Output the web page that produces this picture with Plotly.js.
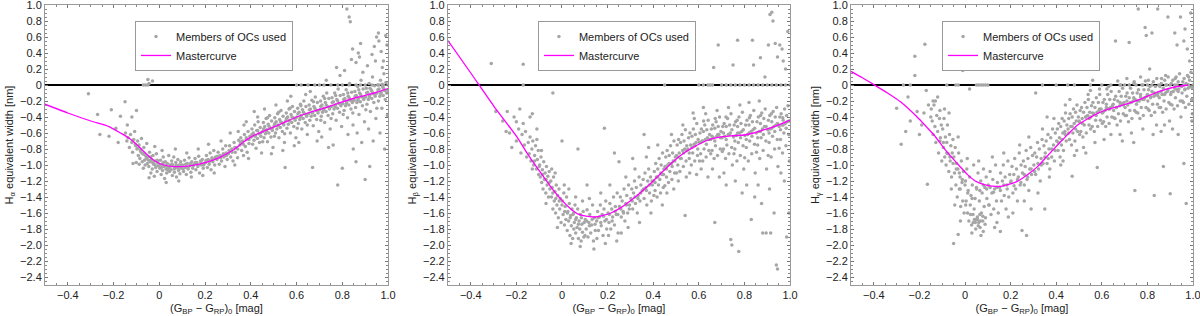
<!DOCTYPE html>
<html>
<head>
<meta charset="utf-8">
<script src="https://cdn.plot.ly/plotly-3.0.1.min.js"></script>
<style>html,body{margin:0;padding:0;background:#fff;}#chart{width:1200px;height:316px;}</style>
</head>
<body>
<div id="chart"></div>
<script>
// ---------- data ----------
const xTickVals = [-0.4, -0.2, 0, 0.2, 0.4, 0.6, 0.8, 1.0];
const xTickText = ['\u22120.4', '\u22120.2', '0', '0.2', '0.4', '0.6', '0.8', '1.0'];
const yTickVals = [-2.4, -2.2, -2.0, -1.8, -1.6, -1.4, -1.2, -1.0, -0.8, -0.6, -0.4, -0.2, 0, 0.2, 0.4, 0.6, 0.8, 1.0];
const yTickText = ['\u22122.4', '\u22122.2', '\u22122.0', '\u22121.8', '\u22121.6', '\u22121.4', '\u22121.2', '\u22121.0', '\u22120.8', '\u22120.6', '\u22120.4', '\u22120.2', '0', '0.2', '0.4', '0.6', '0.8', '1.0'];
const panelLines = ['H<sub>\u03b1</sub>', 'H<sub>\u03b2</sub>', 'H<sub>\u03b3</sub>'];

const halphaCurveX = [-0.5, -0.4, -0.3, -0.22, -0.17, -0.13, -0.09, -0.054, -0.02, 0.02, 0.063, 0.13, 0.2, 0.26, 0.325, 0.37, 0.413, 0.47, 0.53, 0.6, 0.65, 0.72, 0.79, 0.87, 0.94, 1.0];
const halphaCurveY = [-0.24, -0.35, -0.45, -0.52, -0.6, -0.67, -0.77, -0.87, -0.95, -1.0, -1.02, -1.01, -0.97, -0.91, -0.81, -0.71, -0.63, -0.56, -0.49, -0.4, -0.35, -0.29, -0.22, -0.15, -0.1, -0.045];

const hbetaCurveX = [-0.5, -0.4, -0.3, -0.2, -0.151, -0.1, -0.05, -0.004, 0.035, 0.069, 0.105, 0.142, 0.18, 0.215, 0.26, 0.303, 0.35, 0.391, 0.435, 0.479, 0.53, 0.581, 0.63, 0.684, 0.74, 0.8, 0.84, 0.874, 0.94, 1.0];
const hbetaCurveY = [0.555, 0.15, -0.26, -0.64, -0.86, -1.07, -1.27, -1.43, -1.54, -1.61, -1.64, -1.65, -1.63, -1.6, -1.53, -1.44, -1.33, -1.225, -1.1, -0.98, -0.86, -0.77, -0.7, -0.655, -0.635, -0.625, -0.6, -0.57, -0.51, -0.44];

const hgammaCurveX = [-0.5, -0.45, -0.4, -0.34, -0.283, -0.21, -0.17, -0.136, -0.1, -0.063, -0.025, 0.011, 0.045, 0.084, 0.12, 0.157, 0.195, 0.23, 0.275, 0.318, 0.36, 0.406, 0.45, 0.494, 0.54, 0.582, 0.62, 0.67, 0.758, 0.846, 0.919, 0.978];
const hgammaCurveY = [0.17, 0.09, 0.005, -0.1, -0.21, -0.4, -0.52, -0.625, -0.76, -0.89, -1.01, -1.12, -1.2, -1.245, -1.265, -1.267, -1.24, -1.205, -1.12, -1.02, -0.89, -0.75, -0.62, -0.5, -0.42, -0.355, -0.31, -0.27, -0.19, -0.087, -0.025, 0.0];

const halphaMembers = [
[-0.31,-0.11],[-0.27,-0.37],[-0.26,-0.62],[-0.15,-0.21],[-0.21,-0.31],[-0.19,-0.54],[-0.22,-0.64],[-0.17,-0.39],[-0.14,-0.5],[-0.12,-0.4],[-0.1,-0.32],[-0.07,0.38],[-0.18,-0.72],
[-0.148,-0.6],[-0.142,-0.7],[-0.137,-0.66],[-0.131,-0.78],[-0.126,-0.62],[-0.12,-0.72],[-0.117,-0.84],[-0.112,-0.68],[-0.108,-0.58],[-0.104,-0.76],[-0.101,-0.97],[-0.115,-0.98],
[-0.098,-0.8],[-0.095,-0.7],[-0.092,-0.88],[-0.089,-0.75],[-0.085,-0.92],[-0.082,-0.83],[-0.078,-0.67],[-0.075,-0.96],[-0.072,-0.86],[-0.068,-0.78],[-0.065,-0.94],[-0.062,-1.0],[-0.058,-0.89],[-0.055,-0.73],[-0.052,-0.98],[-0.088,-0.99],[-0.07,-1.04],
[-0.049,-0.9],[-0.046,-1.02],[-0.043,-0.84],[-0.04,-0.96],[-0.037,-1.1],[-0.034,-0.93],[-0.031,-1.05],[-0.028,-0.88],[-0.025,-0.99],[-0.022,-1.14],[-0.019,-0.95],[-0.016,-1.03],[-0.013,-0.86],[-0.01,-1.08],[-0.007,-0.97],[-0.004,-1.01],[-0.045,-1.16],[-0.02,-0.77],
[0.002,-1.04],[0.005,-0.94],[0.008,-1.12],[0.011,-0.99],[0.014,-1.07],[0.017,-0.9],[0.02,-1.02],[0.023,-1.17],[0.026,-0.96],[0.029,-1.05],[0.032,-1.1],[0.035,-0.98],[0.038,-1.03],[0.041,-0.88],[0.044,-1.08],[0.047,-1.0],[0.03,-1.22],[0.012,-0.82],
[0.051,-1.06],[0.054,-0.95],[0.057,-1.13],[0.06,-1.01],[0.063,-0.9],[0.066,-1.09],[0.069,-1.04],[0.072,-0.97],[0.075,-1.15],[0.078,-1.02],[0.081,-0.93],[0.084,-1.07],[0.087,-1.0],[0.09,-1.11],[0.093,-0.96],[0.096,-1.04],[0.07,-0.8],[0.085,-1.2],
[0.102,-1.0],[0.106,-1.08],[0.11,-0.94],[0.114,-1.03],[0.118,-1.12],[0.122,-0.98],[0.126,-1.05],[0.13,-0.91],[0.134,-1.01],[0.138,-1.09],[0.142,-0.96],[0.146,-1.04],[0.12,-0.85],[0.14,-1.15],
[0.152,-0.99],[0.156,-0.92],[0.16,-1.06],[0.164,-0.97],[0.168,-1.02],[0.172,-0.89],[0.176,-1.1],[0.18,-0.95],[0.184,-1.0],[0.188,-0.93],[0.192,-1.04],[0.196,-0.98],[0.17,-0.8],[0.19,-1.13],
[0.202,-0.97],[0.206,-0.88],[0.21,-1.03],[0.214,-0.93],[0.218,-0.99],[0.222,-0.85],[0.226,-1.06],[0.23,-0.91],[0.234,-0.96],[0.238,-0.82],[0.242,-1.0],[0.246,-0.9],[0.215,-0.74],[0.24,-1.1],
[0.252,-0.93],[0.257,-0.84],[0.262,-0.99],[0.267,-0.88],[0.272,-0.95],[0.277,-0.8],[0.282,-0.9],[0.287,-1.02],[0.292,-0.85],[0.297,-0.93],[0.27,-0.7],[0.29,-0.76],
[0.302,-0.86],[0.307,-0.76],[0.312,-0.9],[0.317,-0.8],[0.322,-0.95],[0.327,-0.72],[0.332,-0.84],[0.337,-0.78],[0.342,-0.91],[0.347,-0.69],[0.31,-0.6],[0.33,-1.0],[0.345,-0.58],
[0.352,-0.75],[0.356,-0.66],[0.36,-0.82],[0.364,-0.7],[0.368,-0.88],[0.372,-0.62],[0.376,-0.77],[0.38,-0.68],[0.384,-0.84],[0.388,-0.58],[0.392,-0.73],[0.396,-0.64],[0.37,-0.5],[0.39,-0.92],[0.38,-0.46],
[0.402,-0.65],[0.405,-0.55],[0.408,-0.74],[0.411,-0.6],[0.414,-0.69],[0.417,-0.5],[0.42,-0.63],[0.423,-0.79],[0.426,-0.57],[0.429,-0.67],[0.432,-0.46],[0.435,-0.61],[0.438,-0.72],[0.441,-0.53],[0.444,-0.64],[0.447,-0.85],[0.43,-0.4],[0.415,-0.33],
[0.452,-0.58],[0.455,-0.47],[0.458,-0.66],[0.461,-0.52],[0.464,-0.61],[0.467,-0.42],[0.47,-0.56],[0.473,-0.71],[0.476,-0.49],[0.479,-0.6],[0.482,-0.38],[0.485,-0.54],[0.488,-0.65],[0.491,-0.45],[0.494,-0.57],[0.497,-0.78],[0.46,-0.3],[0.49,-0.86],
[0.502,-0.51],[0.505,-0.41],[0.508,-0.6],[0.511,-0.46],[0.514,-0.55],[0.517,-0.36],[0.52,-0.5],[0.523,-0.66],[0.526,-0.43],[0.529,-0.53],[0.532,-0.32],[0.535,-0.47],[0.538,-0.58],[0.541,-0.39],[0.544,-0.5],[0.547,-0.72],[0.51,-0.25],[0.54,-0.82],[0.55,-1.03],
[0.552,-0.45],[0.555,-0.35],[0.558,-0.54],[0.561,-0.4],[0.564,-0.49],[0.567,-0.3],[0.57,-0.44],[0.573,-0.6],[0.576,-0.37],[0.579,-0.47],[0.582,-0.27],[0.585,-0.41],[0.588,-0.52],[0.591,-0.33],[0.594,-0.44],[0.597,-0.66],[0.56,-0.2],[0.59,-0.76],[0.575,-0.14],
[0.602,-0.4],[0.605,-0.29],[0.608,-0.48],[0.611,-0.34],[0.614,-0.43],[0.617,-0.24],[0.62,-0.38],[0.623,-0.55],[0.626,-0.31],[0.629,-0.42],[0.632,-0.2],[0.635,-0.36],[0.638,-0.47],[0.641,-0.27],[0.644,-0.39],[0.647,-0.62],[0.61,-0.72],[0.64,-0.12],
[0.652,-0.36],[0.655,-0.25],[0.658,-0.44],[0.661,-0.3],[0.664,-0.39],[0.667,-0.19],[0.67,-0.34],[0.673,-0.51],[0.676,-0.27],[0.679,-0.38],[0.682,-0.15],[0.685,-0.32],[0.688,-0.43],[0.691,-0.22],[0.694,-0.35],[0.697,-0.58],[0.67,-1.03],[0.69,-0.7],[0.66,-0.08],
[0.702,-0.31],[0.705,-0.2],[0.708,-0.39],[0.711,-0.25],[0.714,-0.34],[0.717,-0.14],[0.72,-0.29],[0.723,-0.47],[0.726,-0.22],[0.729,-0.33],[0.732,-0.1],[0.735,-0.27],[0.738,-0.38],[0.741,-0.17],[0.744,-0.3],[0.747,-0.55],[0.71,-0.65],[0.74,-0.78],[0.73,0.06],
[0.752,-0.27],[0.755,-0.16],[0.758,-0.36],[0.761,-0.21],[0.764,-0.3],[0.767,-0.1],[0.77,-0.25],[0.773,-0.44],[0.776,-0.18],[0.779,-0.29],[0.782,-0.05],[0.785,-0.23],[0.788,-0.34],[0.791,-0.13],[0.794,-0.26],[0.797,-0.52],[0.78,-1.25],[0.76,-0.75],[0.79,0.12],[0.775,0.22],[0.8,-1.04],
[0.802,-0.23],[0.805,-0.12],[0.808,-0.32],[0.811,-0.17],[0.814,-0.26],[0.817,-0.06],[0.82,-0.21],[0.823,-0.41],[0.826,-0.14],[0.829,-0.25],[0.832,0.02],[0.835,-0.19],[0.838,-0.3],[0.841,-0.09],[0.844,-0.22],[0.847,-0.5],[0.82,0.95],[0.83,0.85],[0.835,0.79],[0.84,0.32],[0.81,0.18],[0.845,0.45],[0.825,-0.62],[0.848,-0.8],[0.86,-0.96],
[0.852,-0.19],[0.855,-0.08],[0.858,-0.28],[0.861,-0.13],[0.864,-0.22],[0.867,-0.02],[0.87,-0.17],[0.873,-0.37],[0.876,-0.1],[0.879,-0.21],[0.882,0.06],[0.885,-0.15],[0.888,-0.26],[0.891,-0.05],[0.894,-0.18],[0.897,-0.46],[0.86,0.28],[0.87,0.4],[0.88,0.52],[0.89,0.16],[0.865,-0.6],[0.885,-0.72],[0.9,-1.18],[0.875,0.35],
[0.902,-0.15],[0.905,-0.04],[0.908,-0.24],[0.911,-0.09],[0.914,-0.18],[0.917,0.02],[0.92,-0.13],[0.923,-0.33],[0.926,-0.06],[0.929,-0.17],[0.932,0.1],[0.935,-0.11],[0.938,-0.22],[0.941,-0.01],[0.944,-0.14],[0.947,-0.42],[0.91,0.24],[0.92,-1.02],[0.93,0.38],[0.94,0.48],[0.95,0.6],[0.915,-0.55],[0.935,-0.7],[0.945,0.3],
[0.952,-0.1],[0.955,0.0],[0.958,-0.2],[0.961,-0.05],[0.964,-0.14],[0.967,0.06],[0.97,-0.09],[0.973,-0.29],[0.976,-0.02],[0.979,-0.13],[0.982,0.14],[0.985,-0.07],[0.988,-0.18],[0.991,0.03],[0.994,-0.1],[0.997,-0.38],[0.96,0.55],[0.97,0.42],[0.98,0.3],[0.99,0.62],[0.975,0.22],[0.965,-0.6],[0.985,-0.8],[0.995,0.5],[0.958,0.65],
[-0.07,0],[-0.06,0],[-0.05,0],[-0.045,0.02],[-0.05,0.07],[-0.03,0.05],[0.6,0],[0.62,0],[0.65,0],[0.68,0],[0.7,0],[0.72,0],[0.75,0],[0.78,0],[0.8,0],[0.83,0],[0.86,0],[0.88,0],[0.9,0],[0.93,0],[0.96,0],[0.98,0],[1.0,0],
[-0.118,-0.7],[-0.105,-0.74],[-0.095,-0.79],[-0.083,-0.81],[-0.076,-0.85],[-0.066,-0.87],[-0.057,-0.92],[-0.047,-0.94],[-0.038,-0.9],[-0.029,-0.97],[-0.018,-1.0],[-0.009,-0.94],[0.0,-1.0],[0.009,-1.03],[0.018,-0.97],[0.027,-1.01],[0.036,-1.06],[0.046,-1.03],[0.056,-0.99],[0.065,-1.05],[0.074,-1.0],[0.083,-1.04],[0.094,-1.0],[0.104,-1.05],[0.115,-0.99],[0.125,-1.03],[0.136,-0.98],[0.148,-1.01],[0.158,-0.97],[0.17,-1.0],[0.182,-0.96],[0.194,-1.0],[0.205,-0.94],[0.218,-0.96],[0.23,-0.93],[0.243,-0.92],[0.255,-0.89],[0.268,-0.91],[0.28,-0.86],[0.293,-0.88],[0.305,-0.82],[0.318,-0.84],[0.33,-0.78],[0.343,-0.8],[0.355,-0.72],[0.367,-0.74],[0.38,-0.66],[0.392,-0.68],[0.405,-0.62],[0.418,-0.64],[0.43,-0.57],[0.443,-0.6],[0.456,-0.55],[0.468,-0.58],[0.48,-0.52],[0.493,-0.54],[0.505,-0.48],[0.518,-0.51],[0.53,-0.46],[0.543,-0.48],[0.556,-0.42],[0.568,-0.45],[0.58,-0.4],[0.593,-0.42],[0.606,-0.36],[0.618,-0.4],[0.63,-0.34],[0.643,-0.37],[0.656,-0.31],[0.668,-0.35],[0.68,-0.29],[0.693,-0.32],[0.706,-0.27],[0.718,-0.31],[0.73,-0.25],[0.743,-0.28],[0.756,-0.22],[0.768,-0.27],[0.78,-0.2],[0.793,-0.24],[0.806,-0.18],[0.818,-0.23],[0.83,-0.16],[0.843,-0.2],[0.856,-0.14],[0.868,-0.19],[0.88,-0.12],[0.893,-0.16],[0.906,-0.1],[0.918,-0.15],[0.93,-0.08],[0.943,-0.12],[0.956,-0.06],[0.968,-0.11],[0.98,-0.04],[0.993,-0.08],
[0.452,-0.71],[0.503,-0.64],[0.548,-0.61],[0.603,-0.54],[0.647,-0.5],[0.706,-0.44],[0.751,-0.42],[0.804,-0.37],[0.846,-0.35],[0.903,-0.31],[0.951,-0.29],[0.473,-0.41],[0.522,-0.34],[0.571,-0.29],[0.619,-0.26],[0.674,-0.21],[0.723,-0.17],[0.771,-0.13],[0.824,-0.1],[0.872,-0.06],[0.921,-0.04],[0.974,0.01]
];

const hbetaMembers = [
[-0.31,0.27],[-0.17,0.26],[-0.29,-0.33],[-0.26,-0.45],[-0.245,-0.58],[-0.23,-0.6],[-0.21,-0.4],[-0.2,-0.7],[-0.19,-0.55],[-0.185,-0.3],[-0.18,-0.85],[-0.175,-0.62],[-0.17,-0.48],[-0.165,-0.75],[-0.16,-0.58],[-0.155,-0.9],[-0.2,-0.46],[-0.24,-0.33],[-0.22,-0.78],[-0.14,-0.4],[-0.13,-0.36],[-0.11,-0.55],[-0.04,-0.1],[0.0,-0.7],[0.07,-0.8],
[-0.148,-0.72],[-0.144,-0.86],[-0.14,-0.65],[-0.136,-0.95],[-0.132,-0.8],[-0.128,-0.7],[-0.124,-1.0],[-0.12,-0.88],[-0.116,-0.76],[-0.112,-1.05],[-0.108,-0.93],[-0.104,-0.82],[-0.102,-1.12],[-0.13,-1.05],[-0.11,-0.68],
[-0.098,-1.0],[-0.095,-1.15],[-0.092,-0.9],[-0.089,-1.22],[-0.086,-1.06],[-0.083,-1.3],[-0.08,-0.96],[-0.077,-1.18],[-0.074,-1.1],[-0.071,-1.35],[-0.068,-1.02],[-0.065,-1.25],[-0.062,-1.14],[-0.059,-1.4],[-0.056,-1.08],[-0.053,-1.3],[-0.09,-0.82],[-0.07,-1.48],
[-0.049,-1.2],[-0.046,-1.4],[-0.043,-1.28],[-0.04,-1.55],[-0.037,-1.15],[-0.034,-1.45],[-0.031,-1.33],[-0.028,-1.6],[-0.025,-1.25],[-0.022,-1.5],[-0.019,-1.38],[-0.016,-1.66],[-0.013,-1.3],[-0.01,-1.55],[-0.007,-1.42],[-0.004,-1.72],[-0.045,-1.05],[-0.02,-1.78],[-0.03,-1.1],
[0.002,-1.45],[0.005,-1.62],[0.008,-1.35],[0.011,-1.75],[0.014,-1.52],[0.017,-1.68],[0.02,-1.4],[0.023,-1.82],[0.026,-1.58],[0.029,-1.7],[0.032,-1.48],[0.035,-1.88],[0.038,-1.63],[0.041,-1.76],[0.044,-1.55],[0.047,-1.92],[0.01,-1.25],[0.03,-1.3],[0.04,-1.98],
[0.051,-1.6],[0.054,-1.72],[0.057,-1.5],[0.06,-1.85],[0.063,-1.66],[0.066,-1.78],[0.069,-1.55],[0.072,-1.92],[0.075,-1.7],[0.078,-1.8],[0.081,-1.62],[0.084,-1.95],[0.087,-1.74],[0.09,-1.84],[0.093,-1.58],[0.096,-1.9],[0.06,-1.4],[0.08,-2.02],[0.09,-1.45],
[0.102,-1.68],[0.106,-1.8],[0.11,-1.56],[0.114,-1.9],[0.118,-1.72],[0.122,-1.62],[0.126,-1.85],[0.13,-1.75],[0.134,-1.5],[0.138,-1.95],[0.142,-1.66],[0.146,-1.82],[0.12,-1.42],[0.14,-2.05],[0.11,-1.25],
[0.152,-1.7],[0.156,-1.58],[0.16,-1.82],[0.164,-1.65],[0.168,-1.5],[0.172,-1.76],[0.176,-1.62],[0.18,-1.88],[0.184,-1.55],[0.188,-1.7],[0.192,-1.45],[0.196,-1.8],[0.17,-1.35],[0.19,-1.98],[0.186,-0.54],
[0.202,-1.6],[0.206,-1.72],[0.21,-1.48],[0.214,-1.8],[0.218,-1.55],[0.222,-1.65],[0.226,-1.4],[0.23,-1.75],[0.234,-1.52],[0.238,-1.62],[0.242,-1.35],[0.246,-1.85],[0.21,-1.25],[0.24,-1.95],[0.23,-0.85],
[0.252,-1.52],[0.256,-1.4],[0.26,-1.65],[0.264,-1.45],[0.268,-1.58],[0.272,-1.3],[0.276,-1.7],[0.28,-1.48],[0.284,-1.38],[0.288,-1.6],[0.292,-1.25],[0.296,-1.5],[0.26,-1.85],[0.28,-1.15],[0.25,-0.96],[0.29,-1.78],
[0.302,-1.42],[0.306,-1.3],[0.31,-1.55],[0.314,-1.35],[0.318,-1.2],[0.322,-1.48],[0.326,-1.28],[0.33,-1.6],[0.334,-1.38],[0.338,-1.15],[0.342,-1.45],[0.346,-1.25],[0.32,-1.05],[0.34,-1.72],[0.31,-0.92],
[0.352,-1.32],[0.356,-1.18],[0.36,-1.42],[0.364,-1.1],[0.368,-1.28],[0.372,-1.5],[0.376,-1.2],[0.38,-1.05],[0.384,-1.35],[0.388,-1.15],[0.392,-1.45],[0.396,-1.25],[0.37,-0.9],[0.39,-1.6],[0.38,-0.78],[0.36,-0.62],
[0.402,-1.2],[0.405,-1.08],[0.408,-1.32],[0.411,-0.98],[0.414,-1.15],[0.417,-1.4],[0.42,-1.05],[0.423,-1.25],[0.426,-0.92],[0.429,-1.18],[0.432,-1.35],[0.435,-1.0],[0.438,-1.12],[0.441,-0.85],[0.444,-1.28],[0.447,-1.05],[0.42,-0.75],[0.44,-1.5],
[0.452,-1.02],[0.455,-0.9],[0.458,-1.15],[0.461,-0.82],[0.464,-1.0],[0.467,-1.22],[0.47,-0.88],[0.473,-1.08],[0.476,-0.76],[0.479,-0.98],[0.482,-1.18],[0.485,-0.85],[0.488,-0.95],[0.491,-0.7],[0.494,-1.1],[0.497,-0.9],[0.46,-1.35],[0.48,-0.62],[0.49,-1.3],
[0.502,-0.88],[0.505,-0.75],[0.508,-1.0],[0.511,-0.68],[0.514,-0.85],[0.517,-1.08],[0.52,-0.72],[0.523,-0.92],[0.526,-0.62],[0.529,-0.82],[0.532,-1.02],[0.535,-0.7],[0.538,-0.8],[0.541,-0.56],[0.544,-0.95],[0.547,-0.76],[0.51,-1.2],[0.53,-0.5],[0.54,-1.63],[0.545,-1.15],
[0.552,-0.8],[0.555,-0.66],[0.558,-0.92],[0.561,-0.6],[0.564,-0.75],[0.567,-1.0],[0.57,-0.64],[0.573,-0.85],[0.576,-0.55],[0.579,-0.74],[0.582,-0.95],[0.585,-0.62],[0.588,-0.72],[0.591,-0.48],[0.594,-0.88],[0.597,-0.68],[0.56,-1.1],[0.58,-0.42],[0.59,-1.12],[0.575,-0.35],
[0.602,-0.72],[0.605,-0.6],[0.608,-0.86],[0.611,-0.55],[0.614,-0.7],[0.617,-0.95],[0.62,-0.58],[0.623,-0.8],[0.626,-0.5],[0.629,-0.68],[0.632,-0.9],[0.635,-0.56],[0.638,-0.66],[0.641,-0.44],[0.644,-0.82],[0.647,-0.62],[0.61,-1.05],[0.63,-0.36],[0.64,-1.15],[0.62,-0.28],
[0.652,-0.68],[0.655,-0.55],[0.658,-0.82],[0.661,-0.5],[0.664,-0.66],[0.667,-0.92],[0.67,-0.54],[0.673,-0.76],[0.676,-0.46],[0.679,-0.64],[0.682,-0.88],[0.685,-0.52],[0.688,-0.62],[0.691,-0.4],[0.694,-0.8],[0.697,-0.58],[0.66,-1.05],[0.68,-0.32],[0.67,-1.72],[0.69,-1.15],[0.665,0.22],[0.685,0.5],
[0.702,-0.66],[0.705,-0.52],[0.708,-0.8],[0.711,-0.48],[0.714,-0.64],[0.717,-0.92],[0.72,-0.52],[0.723,-0.75],[0.726,-0.42],[0.729,-0.62],[0.732,-0.86],[0.735,-0.5],[0.738,-0.6],[0.741,-0.36],[0.744,-0.78],[0.747,-1.0],[0.71,-1.1],[0.73,-0.28],[0.74,-1.93],[0.745,-2.0],[0.72,-1.25],[0.75,0.25],
[0.752,-0.65],[0.755,-0.5],[0.758,-0.8],[0.761,-0.46],[0.764,-0.63],[0.767,-0.95],[0.77,-0.52],[0.773,-0.72],[0.776,-0.4],[0.779,-0.6],[0.782,-0.88],[0.785,-0.48],[0.788,-0.58],[0.791,-0.34],[0.794,-0.76],[0.797,-1.05],[0.76,-1.2],[0.775,-2.08],[0.78,-0.25],[0.77,0.56],[0.79,-1.35],
[0.802,-0.63],[0.805,-0.5],[0.808,-0.78],[0.811,-0.44],[0.814,-0.62],[0.817,-0.95],[0.82,-0.5],[0.823,-0.7],[0.826,-0.38],[0.829,-0.58],[0.832,-0.86],[0.835,-0.46],[0.838,-0.56],[0.841,-0.32],[0.844,-0.74],[0.847,-1.1],[0.81,-1.25],[0.83,-1.68],[0.84,0.25],[0.835,0.56],[0.82,-0.22],[0.845,-1.4],
[0.852,-0.6],[0.855,-0.46],[0.858,-0.75],[0.861,-0.4],[0.864,-0.58],[0.867,-0.92],[0.87,-0.48],[0.873,-0.66],[0.876,-0.35],[0.879,-0.55],[0.882,-0.82],[0.885,-0.42],[0.888,-0.52],[0.891,-0.3],[0.894,-0.7],[0.897,-1.05],[0.86,-1.25],[0.88,-1.85],[0.895,-1.85],[0.87,0.34],[0.875,-1.48],[0.89,0.1],[0.865,-0.2],
[0.902,-0.56],[0.905,-0.44],[0.908,-0.72],[0.911,-0.38],[0.914,-0.55],[0.917,-0.9],[0.92,-0.46],[0.923,-0.64],[0.926,-0.33],[0.929,-0.52],[0.932,-0.8],[0.935,-0.4],[0.938,-0.5],[0.941,-0.28],[0.944,-0.68],[0.947,-1.02],[0.91,-1.3],[0.93,-1.6],[0.94,-2.25],[0.945,-2.3],[0.912,0.88],[0.92,0.91],[0.925,0.8],[0.935,0.52],[0.945,0.35],[0.905,0.5],[0.915,-1.85],
[0.952,-0.52],[0.955,-0.4],[0.958,-0.68],[0.961,-0.36],[0.964,-0.5],[0.967,-0.85],[0.97,-0.44],[0.973,-0.6],[0.976,-0.3],[0.979,-0.48],[0.982,-0.76],[0.985,-0.38],[0.988,-0.46],[0.991,-0.26],[0.994,-0.62],[0.997,-0.95],[0.96,-1.1],[0.975,-1.2],[0.985,-1.9],[0.955,0.5],[0.965,0.45],[0.99,0.67],[0.98,0.2],[0.995,-1.6],[0.97,0.3],
[-0.17,0],[0.45,0],[0.6,0],[0.62,0],[0.64,0],[0.65,0],[0.66,0],[0.7,0],[0.72,0],[0.74,0],[0.76,0],[0.78,0],[0.8,0],[0.82,0],[0.84,0],[0.86,0],[0.88,0],[0.9,0],[0.92,0],[0.94,0],[0.96,0],[0.98,0],[1.0,0],
[-0.12,-0.95],[-0.1,-1.02],[-0.085,-1.12],[-0.07,-1.18],[-0.055,-1.22],[-0.04,-1.35],[-0.027,-1.42],[-0.012,-1.45],[0.0,-1.5],[0.012,-1.58],[0.024,-1.6],[0.036,-1.66],[0.048,-1.62],[0.06,-1.68],[0.072,-1.74],[0.085,-1.66],[0.097,-1.72],[0.108,-1.7],[0.12,-1.76],[0.132,-1.68],[0.145,-1.74],[0.158,-1.66],[0.17,-1.72],[0.182,-1.64],[0.195,-1.68],[0.208,-1.62],[0.22,-1.7],[0.233,-1.58],[0.245,-1.62],[0.258,-1.55],[0.27,-1.6],[0.283,-1.5],[0.295,-1.55],[0.308,-1.45],[0.32,-1.4],[0.333,-1.42],[0.345,-1.35],[0.358,-1.3],[0.37,-1.32],[0.383,-1.25],[0.395,-1.2],[0.408,-1.22],[0.42,-1.15],[0.433,-1.1],[0.445,-1.12],[0.458,-1.05],[0.47,-0.98],[0.483,-1.02],[0.495,-0.95],[0.508,-0.9],[0.52,-0.92],[0.533,-0.85],[0.545,-0.82],[0.558,-0.85],[0.57,-0.78],[0.583,-0.76],[0.595,-0.8],[0.608,-0.72],[0.62,-0.7],[0.633,-0.74],[0.645,-0.68],[0.658,-0.64],[0.67,-0.7],[0.683,-0.62],[0.695,-0.66],[0.708,-0.6],[0.72,-0.68],[0.733,-0.62],[0.745,-0.56],[0.758,-0.7],[0.77,-0.6],[0.783,-0.66],[0.795,-0.56],[0.808,-0.68],[0.82,-0.6],[0.833,-0.64],[0.845,-0.54],[0.858,-0.66],[0.87,-0.58],[0.883,-0.62],[0.895,-0.52],[0.908,-0.6],[0.92,-0.54],[0.933,-0.58],[0.945,-0.48],[0.958,-0.56],[0.97,-0.5],[0.983,-0.54],[0.995,-0.45],
[0.603,-0.95],[0.652,-0.86],[0.703,-0.83],[0.754,-0.86],[0.801,-0.91],[0.853,-0.84],[0.904,-0.88],[0.952,-0.79],[0.621,-0.45],[0.672,-0.42],[0.719,-0.4],[0.768,-0.44],[0.822,-0.41],[0.871,-0.38],[0.918,-0.36],[0.968,-0.41],[0.502,-1.1],[0.451,-1.26],[0.403,-1.38],[0.052,-1.8],[0.101,-1.88],[0.153,-1.92],[0.204,-1.88]
];

const hgammaMembers = [
[-0.3,-0.29],[-0.22,0.36],[-0.176,0.51],[-0.22,0.12],[-0.28,-0.74],[-0.26,-0.58],[-0.17,-0.07],[-0.21,-0.33],[-0.19,-0.5],[-0.16,-0.25],[-0.2,-0.62],[-0.25,-0.15],[-0.15,-0.4],[-0.165,-1.24],[-0.18,-0.35],[-0.24,-0.45],[-0.14,-0.2],[-0.12,-0.15],[-0.01,0.18],[0.02,-0.05],
[-0.148,-0.3],[-0.144,-0.45],[-0.14,-0.62],[-0.136,-0.25],[-0.132,-0.52],[-0.128,-0.72],[-0.124,-0.38],[-0.12,-0.58],[-0.116,-0.85],[-0.112,-0.42],[-0.108,-0.66],[-0.104,-0.5],[-0.102,-0.95],[-0.13,-0.2],[-0.11,-0.32],
[-0.098,-0.55],[-0.095,-0.78],[-0.092,-0.42],[-0.089,-0.9],[-0.086,-0.65],[-0.083,-1.0],[-0.08,-0.72],[-0.077,-0.5],[-0.074,-0.86],[-0.071,-1.08],[-0.068,-0.62],[-0.065,-0.95],[-0.062,-0.76],[-0.059,-1.15],[-0.056,-0.85],[-0.053,-0.68],[-0.09,-0.3],[-0.07,-0.35],[-0.06,-1.3],
[-0.049,-0.9],[-0.046,-1.1],[-0.043,-0.78],[-0.04,-1.25],[-0.037,-0.98],[-0.034,-1.4],[-0.031,-1.05],[-0.028,-0.85],[-0.025,-1.3],[-0.022,-1.15],[-0.019,-1.52],[-0.016,-0.95],[-0.013,-1.22],[-0.01,-1.45],[-0.007,-1.08],[-0.004,-1.6],[-0.045,-1.5],[-0.03,-0.65],[-0.05,-1.98],[-0.03,-1.87],[-0.02,-1.7],
[0.002,-1.2],[0.005,-1.45],[0.008,-1.05],[0.011,-1.6],[0.014,-1.32],[0.017,-1.7],[0.02,-1.15],[0.023,-1.5],[0.026,-1.38],[0.029,-1.75],[0.032,-1.25],[0.035,-1.62],[0.038,-1.0],[0.041,-1.68],[0.044,-1.42],[0.047,-1.8],[0.01,-0.92],[0.03,-1.85],[0.045,-1.72],[0.04,-1.55],
[0.051,-1.3],[0.054,-1.65],[0.057,-1.1],[0.06,-1.72],[0.063,-1.45],[0.066,-1.78],[0.069,-1.2],[0.072,-1.6],[0.075,-1.35],[0.078,-1.7],[0.081,-1.05],[0.084,-1.52],[0.087,-1.28],[0.09,-1.66],[0.093,-1.15],[0.096,-1.42],[0.06,-0.95],[0.08,-1.83],[0.07,-1.88],[0.055,-1.68],[0.065,-1.62],
[0.102,-1.25],[0.106,-1.5],[0.11,-1.08],[0.114,-1.62],[0.118,-1.35],[0.122,-1.18],[0.126,-1.55],[0.13,-1.3],[0.134,-1.0],[0.138,-1.45],[0.142,-1.22],[0.146,-1.6],[0.12,-0.9],[0.14,-1.72],[0.13,-1.78],
[0.152,-1.28],[0.156,-1.1],[0.16,-1.45],[0.164,-1.2],[0.168,-1.0],[0.172,-1.38],[0.176,-1.15],[0.18,-1.55],[0.184,-1.25],[0.188,-0.95],[0.192,-1.4],[0.196,-1.12],[0.155,-1.83],[0.17,-0.85],[0.19,-1.65],
[0.202,-1.2],[0.206,-1.02],[0.21,-1.35],[0.214,-1.12],[0.218,-0.92],[0.222,-1.3],[0.226,-1.05],[0.23,-1.45],[0.234,-1.15],[0.238,-0.85],[0.242,-1.25],[0.246,-1.0],[0.25,-1.82],[0.21,-1.6],[0.24,-0.75],
[0.252,-1.1],[0.256,-0.95],[0.26,-1.25],[0.264,-1.02],[0.268,-0.82],[0.272,-1.18],[0.276,-0.92],[0.28,-1.32],[0.284,-1.05],[0.288,-0.78],[0.292,-1.12],[0.296,-0.88],[0.27,-1.88],[0.26,-1.45],[0.28,-0.65],[0.29,-1.55],
[0.302,-1.0],[0.306,-0.85],[0.31,-1.12],[0.314,-0.9],[0.318,-0.72],[0.322,-1.05],[0.326,-0.8],[0.33,-1.2],[0.334,-0.92],[0.338,-0.68],[0.342,-0.98],[0.346,-0.76],[0.32,-1.35],[0.34,-0.55],[0.35,-1.55],[0.31,-0.1],
[0.352,-0.85],[0.356,-0.7],[0.36,-0.98],[0.364,-0.62],[0.368,-0.8],[0.372,-1.05],[0.376,-0.66],[0.38,-0.9],[0.384,-0.55],[0.388,-0.75],[0.392,-0.95],[0.396,-0.6],[0.37,-1.15],[0.39,-0.42],[0.36,-0.4],
[0.402,-0.7],[0.405,-0.55],[0.408,-0.82],[0.411,-0.48],[0.414,-0.66],[0.417,-0.9],[0.42,-0.52],[0.423,-0.75],[0.426,-0.42],[0.429,-0.6],[0.432,-0.82],[0.435,-0.45],[0.438,-0.58],[0.441,-0.35],[0.444,-0.7],[0.447,-0.5],[0.42,-1.0],[0.44,-0.25],[0.43,-0.95],
[0.452,-0.55],[0.455,-0.42],[0.458,-0.68],[0.461,-0.36],[0.464,-0.52],[0.467,-0.75],[0.47,-0.4],[0.473,-0.6],[0.476,-0.3],[0.479,-0.48],[0.482,-0.7],[0.485,-0.34],[0.488,-0.45],[0.491,-0.25],[0.494,-0.58],[0.497,-0.4],[0.47,-1.14],[0.48,-0.88],[0.46,-0.18],[0.49,-0.82],
[0.502,-0.46],[0.505,-0.32],[0.508,-0.58],[0.511,-0.28],[0.514,-0.42],[0.517,-0.65],[0.52,-0.34],[0.523,-0.5],[0.526,-0.22],[0.529,-0.4],[0.532,-0.6],[0.535,-0.28],[0.538,-0.38],[0.541,-0.18],[0.544,-0.5],[0.547,-0.34],[0.52,-0.78],[0.54,-0.12],[0.53,-0.85],[0.55,-0.07],
[0.552,-0.4],[0.555,-0.26],[0.558,-0.52],[0.561,-0.22],[0.564,-0.36],[0.567,-0.58],[0.57,-0.28],[0.573,-0.44],[0.576,-0.16],[0.579,-0.34],[0.582,-0.52],[0.585,-0.22],[0.588,-0.32],[0.591,-0.12],[0.594,-0.44],[0.597,-0.3],[0.58,-1.03],[0.57,-0.72],[0.59,-0.05],[0.58,0.32],[0.56,0.06],
[0.602,-0.35],[0.605,-0.22],[0.608,-0.46],[0.611,-0.18],[0.614,-0.32],[0.617,-0.52],[0.62,-0.24],[0.623,-0.4],[0.626,-0.12],[0.629,-0.3],[0.632,-0.48],[0.635,-0.18],[0.638,-0.28],[0.641,-0.08],[0.644,-0.4],[0.647,-0.26],[0.61,-0.68],[0.63,-0.02],[0.64,-0.62],
[0.652,-0.32],[0.655,-0.18],[0.658,-0.42],[0.661,-0.14],[0.664,-0.28],[0.667,-0.5],[0.67,-0.2],[0.673,-0.36],[0.676,-0.08],[0.679,-0.26],[0.682,-0.45],[0.685,-0.14],[0.688,-0.24],[0.691,-0.04],[0.694,-0.36],[0.697,-0.22],[0.66,0.55],[0.68,-0.62],[0.67,0.05],[0.69,-0.7],
[0.702,-0.28],[0.705,-0.14],[0.708,-0.38],[0.711,-0.1],[0.714,-0.25],[0.717,-0.46],[0.72,-0.16],[0.723,-0.32],[0.726,-0.04],[0.729,-0.22],[0.732,-0.42],[0.735,-0.1],[0.738,-0.2],[0.741,0.02],[0.744,-0.32],[0.747,-0.18],[0.72,0.53],[0.73,-0.6],[0.71,0.08],[0.74,-0.72],[0.745,-1.32],
[0.752,-0.24],[0.755,-0.1],[0.758,-0.35],[0.761,-0.06],[0.764,-0.2],[0.767,-0.42],[0.77,-0.12],[0.773,-0.28],[0.776,0.0],[0.779,-0.18],[0.782,-0.38],[0.785,-0.06],[0.788,-0.16],[0.791,0.05],[0.794,-0.28],[0.797,-0.14],[0.76,0.95],[0.79,0.72],[0.78,-0.55],[0.77,0.1],[0.795,0.62],
[0.802,-0.2],[0.805,-0.06],[0.808,-0.32],[0.811,-0.02],[0.814,-0.16],[0.817,-0.38],[0.82,-0.08],[0.823,-0.24],[0.826,0.04],[0.829,-0.14],[0.832,-0.34],[0.835,-0.02],[0.838,-0.12],[0.841,0.08],[0.844,-0.24],[0.847,-0.1],[0.82,0.65],[0.81,0.2],[0.83,-1.38],[0.84,-0.5],[0.845,0.95],[0.825,-0.62],
[0.852,-0.16],[0.855,-0.02],[0.858,-0.28],[0.861,0.02],[0.864,-0.12],[0.867,-0.34],[0.87,-0.04],[0.873,-0.2],[0.876,0.06],[0.879,-0.1],[0.882,-0.3],[0.885,0.0],[0.888,-0.08],[0.891,0.1],[0.894,-0.22],[0.897,-0.45],[0.87,-1.02],[0.89,0.85],[0.88,0.12],[0.86,-0.58],[0.875,-0.5],
[0.902,-0.12],[0.905,0.02],[0.908,-0.25],[0.911,0.06],[0.914,-0.08],[0.917,-0.3],[0.92,0.0],[0.923,-0.16],[0.926,0.1],[0.929,-0.06],[0.932,-0.26],[0.935,0.04],[0.938,-0.05],[0.941,0.14],[0.944,-0.2],[0.947,-0.4],[0.9,-1.36],[0.93,0.5],[0.945,0.85],[0.91,-0.55],[0.92,0.65],[0.935,-0.62],
[0.952,-0.1],[0.955,0.04],[0.958,-0.22],[0.961,0.08],[0.964,-0.06],[0.967,-0.28],[0.97,0.02],[0.973,-0.14],[0.976,0.12],[0.979,-0.04],[0.982,-0.24],[0.985,0.06],[0.988,-0.02],[0.991,0.16],[0.994,-0.18],[0.997,-0.36],[0.97,-1.48],[0.96,-0.98],[0.965,0.7],[0.975,0.45],[0.99,0.9],[0.995,-0.45],[0.985,0.3],[0.96,0.55],
[-0.27,0],[-0.24,0],[-0.08,0],[-0.04,0],[-0.03,0],[0.05,0],[0.06,0],[0.07,0],[0.08,0],[0.09,0],[0.1,0],[0.34,0],[0.4,0],[0.45,0],[0.48,0],[0.55,0],[0.6,0],[0.64,0],[0.68,0],[0.7,0],[0.72,0],[0.75,0],[0.78,0],[0.8,0],[0.82,0],[0.85,0],[0.88,0],[0.9,0],[0.93,0],[0.96,0],[0.98,0],[1.0,0],
[-0.11,-0.7],[-0.095,-0.72],[-0.08,-0.85],[-0.066,-0.9],[-0.052,-0.98],[-0.038,-1.05],[-0.025,-1.1],[-0.012,-1.18],[0.0,-1.25],[0.012,-1.35],[0.024,-1.62],[0.036,-1.72],[0.048,-1.68],[0.058,-1.76],[0.068,-1.7],[0.078,-1.64],[0.088,-1.74],[0.05,-1.28],[0.065,-1.32],[0.08,-1.25],[0.095,-1.3],[0.11,-1.28],[0.125,-1.34],[0.14,-1.28],[0.155,-1.32],[0.17,-1.25],[0.185,-1.3],[0.2,-1.22],[0.215,-1.26],[0.23,-1.18],[0.245,-1.22],[0.26,-1.12],[0.275,-1.15],[0.29,-1.05],[0.305,-1.08],[0.32,-0.98],[0.335,-1.0],[0.35,-0.9],[0.365,-0.92],[0.38,-0.8],[0.395,-0.82],[0.41,-0.72],[0.425,-0.68],[0.44,-0.62],[0.455,-0.6],[0.47,-0.52],[0.485,-0.55],[0.5,-0.45],[0.515,-0.48],[0.53,-0.4],[0.545,-0.42],[0.56,-0.35],[0.575,-0.38],[0.59,-0.3],[0.605,-0.34],[0.62,-0.28],[0.635,-0.3],[0.65,-0.24],[0.665,-0.28],[0.68,-0.22],[0.695,-0.25],[0.71,-0.2],[0.725,-0.22],[0.74,-0.16],[0.755,-0.2],[0.77,-0.15],[0.785,-0.18],[0.8,-0.12],[0.815,-0.15],[0.83,-0.1],[0.845,-0.13],[0.86,-0.08],[0.875,-0.12],[0.89,-0.06],[0.905,-0.09],[0.92,-0.04],[0.935,-0.08],[0.95,-0.02],[0.965,-0.05],[0.98,0.0],[0.995,-0.03],
[0.503,-0.62],[0.551,-0.55],[0.602,-0.48],[0.653,-0.41],[0.702,-0.38],[0.751,-0.34],[0.803,-0.3],[0.852,-0.28],[0.901,-0.24],[0.953,-0.2],[0.622,-0.05],[0.683,0.0],[0.742,0.04],[0.804,0.06],[0.862,0.08],[0.922,0.08],[0.981,0.1],[0.003,-1.5],[-0.021,-1.3],[0.031,-1.42],[0.104,-1.5]
];

// ---------- build ----------
const FONT = 'Liberation Sans, Arial, sans-serif';
const pointColor = '#a6a6a6';
const curveColor = '#ff00ff';
const panels = [
  {members: halphaMembers, cx: halphaCurveX, cy: halphaCurveY, legend: 'legend'},
  {members: hbetaMembers, cx: hbetaCurveX, cy: hbetaCurveY, legend: 'legend2'},
  {members: hgammaMembers, cx: hgammaCurveX, cy: hgammaCurveY, legend: 'legend3'}
];
const domains = [[0, 0.2988], [0.351, 0.649], [0.7021, 1.0]];
const legendX = [0.0784, 0.4294, 0.7814];

const traces = [];
panels.forEach((p, i) => {
  const sfx = i === 0 ? '' : String(i + 1);
  traces.push({
    type: 'scatter', mode: 'markers', name: 'Members of OCs used',
    x: p.members.map(d => d[0]), y: p.members.map(d => d[1]),
    xaxis: 'x' + sfx, yaxis: 'y' + sfx, legend: p.legend,
    marker: {color: pointColor, size: 3.5, line: {width: 0}},
    hoverinfo: 'skip'
  });
  traces.push({
    type: 'scatter', mode: 'lines', name: 'Mastercurve',
    x: p.cx, y: p.cy, xaxis: 'x' + sfx, yaxis: 'y' + sfx, legend: p.legend,
    line: {color: curveColor, width: 1.3, shape: 'spline', smoothing: 0.6},
    hoverinfo: 'skip'
  });
});

function xAxis(i) {
  return {
    domain: domains[i], range: [-0.5, 1.0], anchor: i === 0 ? 'y' : 'y' + (i + 1),
    tickmode: 'array', tickvals: xTickVals, ticktext: xTickText,
    ticks: 'inside', ticklen: 3, tickcolor: '#777', mirror: 'allticks',
    showline: true, linecolor: '#999', linewidth: 1,
    showgrid: false, zeroline: false, ticklabeloverflow: 'allow',
    minor: {dtick: 0.05, tick0: 0, ticks: 'inside', ticklen: 2, tickcolor: '#888', showgrid: false},
    tickfont: {family: FONT, size: 11, color: '#222'},
    title: {text: '(G<sub>BP</sub> \u2212 G<sub>RP</sub>)<sub>0</sub> [mag]', font: {family: FONT, size: 11, color: '#222'}, standoff: 4}
  };
}
function yAxis(i) {
  return {
    domain: [0, 1], range: [-2.5, 1.0], anchor: i === 0 ? 'x' : 'x' + (i + 1),
    tickmode: 'array', tickvals: yTickVals, ticktext: yTickText,
    ticks: 'inside', ticklen: 3, tickcolor: '#777', mirror: 'allticks',
    showline: true, linecolor: '#999', linewidth: 1,
    showgrid: false, zeroline: true, zerolinecolor: '#000', zerolinewidth: 1.6,
    ticklabeloverflow: 'allow',
    minor: {dtick: 0.05, tick0: 0, ticks: 'inside', ticklen: 2, tickcolor: '#888', showgrid: false},
    tickfont: {family: FONT, size: 11, color: '#222'},
    title: {text: panelLines[i] + ' equivalent width [nm]', font: {family: FONT, size: 11, color: '#222'}, standoff: 4}
  };
}
function legendBox(i) {
  return {
    x: legendX[i], y: 0.943, xanchor: 'left', yanchor: 'top',
    xref: 'paper', yref: 'paper',
    bgcolor: '#fff', bordercolor: '#999', borderwidth: 1,
    font: {family: FONT, size: 11, color: '#222'},
    itemwidth: 30, tracegroupgap: 0
  };
}

const layout = {
  width: 1200, height: 316,
  margin: {l: 45, r: 7, t: 5, b: 31},
  paper_bgcolor: '#fff', plot_bgcolor: '#fff',
  showlegend: true,
  xaxis: xAxis(0), yaxis: yAxis(0),
  xaxis2: xAxis(1), yaxis2: yAxis(1),
  xaxis3: xAxis(2), yaxis3: yAxis(2),
  legend: legendBox(0), legend2: legendBox(1), legend3: legendBox(2)
};

Plotly.newPlot('chart', traces, layout, {displayModeBar: false, staticPlot: true});
</script>
</body>
</html>
